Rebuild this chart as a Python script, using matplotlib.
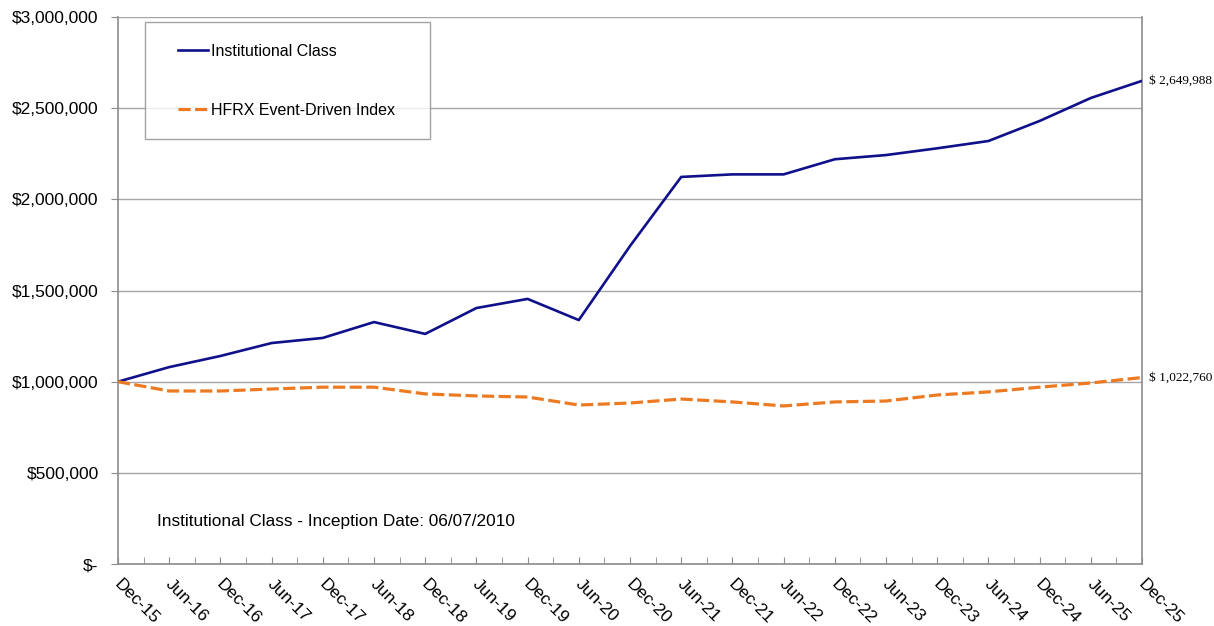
import matplotlib
matplotlib.use("Agg")
import matplotlib.pyplot as plt
import matplotlib.transforms as mtransforms
from matplotlib.legend_handler import HandlerLine2D
from matplotlib.ticker import FuncFormatter, FixedLocator

# growth of $1,000,000, semi-annual
periods = ["Dec-15", "Jun-16", "Dec-16", "Jun-17", "Dec-17", "Jun-18", "Dec-18",
           "Jun-19", "Dec-19", "Jun-20", "Dec-20", "Jun-21", "Dec-21", "Jun-22",
           "Dec-22", "Jun-23", "Dec-23", "Jun-24", "Dec-24", "Jun-25", "Dec-25"]
institutional = [1000000, 1080000, 1141000, 1212000, 1240000, 1327000, 1262000,
                 1404000, 1454000, 1338000, 1744000, 2123000, 2137000, 2137000,
                 2220000, 2243000, 2280000, 2320000, 2430000, 2556000, 2649988]
hfrx = [1000000, 949000, 949000, 960000, 970000, 970000, 933000,
        922000, 916000, 872000, 883000, 905000, 889000, 867000,
        889000, 894000, 927000, 944000, 970000, 993000, 1022760]

NAVY = "#10108a"
ORANGE = "#ec7a22"
GRID = "#a6a6a6"
AXIS = "#8c8c8c"

plt.rcParams["font.family"] = ["Liberation Sans", "DejaVu Sans"]

fig = plt.figure(figsize=(12.14, 6.26), dpi=100)
ax = fig.add_axes([0.0972, 0.099, 0.8435, 0.8738])

x = list(range(len(periods)))
ax.plot(x, institutional, color=NAVY, lw=1.9, label="Institutional Class", zorder=3)
ax.plot(x, hfrx, color=ORANGE, lw=2.3, ls=(0, (3.8, 1.4)),
        label="HFRX Event-Driven Index", zorder=3)

ax.set_xlim(0, len(periods) - 1)
ax.set_ylim(0, 3000000)
ax.set_yticks(range(0, 3000001, 500000))
ax.yaxis.set_major_formatter(FuncFormatter(lambda v, p: "$-" if v == 0 else f"${v:,.0f}"))
ax.grid(axis="y", color=GRID, lw=1.0)
ax.set_axisbelow(True)

# category ticks at every point and midway between
ax.xaxis.set_major_locator(FixedLocator(x))
ax.set_xticklabels(periods)
ax.xaxis.set_minor_locator(FixedLocator([i + 0.5 for i in x[:-1]]))
ax.tick_params(axis="x", which="both", direction="in", length=5, color=AXIS, pad=9)
ax.tick_params(axis="y", direction="out", length=5, color=AXIS, labelsize=12.5, pad=9)
shift = mtransforms.ScaledTranslation(4 / 100, 0, fig.dpi_scale_trans)
for lab in ax.get_xticklabels():
    lab.set_rotation(-45)
    lab.set_ha("left")
    lab.set_va("top")
    lab.set_rotation_mode("anchor")
    lab.set_fontsize(12.5)
    lab.set_transform(lab.get_transform() + shift)

ax.spines["top"].set_visible(False)
for s in ("left", "bottom", "right"):
    ax.spines[s].set_color(AXIS)
    ax.spines[s].set_linewidth(1.2)

leg = ax.legend(loc="upper left", bbox_to_anchor=(0.0264, 0.99, 0.278, 0.0),
                mode="expand", frameon=True, fancybox=False, fontsize=11.5,
                handlelength=2.6, handletextpad=0.2, labelspacing=2.72,
                borderpad=1.35, borderaxespad=0,
                handler_map={matplotlib.lines.Line2D: HandlerLine2D(xpad=0.7)})
leg.get_frame().set_edgecolor(AXIS)
leg.get_frame().set_linewidth(1.0)

ax.text(0.038, 0.078, "Institutional Class - Inception Date: 06/07/2010",
        transform=ax.transAxes, fontsize=12.4, ha="left", va="center")

for series in (institutional, hfrx):
    ax.annotate(f"$ {series[-1]:,.0f}", xy=(x[-1], series[-1]), xytext=(5, 0),
                textcoords="offset points", ha="left", va="center",
                fontsize=9.5, family="Liberation Serif", annotation_clip=False)

fig.savefig("out.png", dpi=100)
